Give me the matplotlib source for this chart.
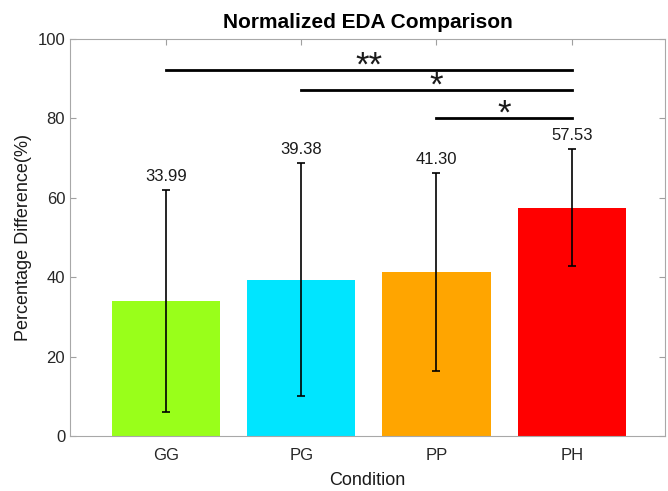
import numpy as np
import matplotlib
matplotlib.use("Agg")
import matplotlib.pyplot as plt

plt.rcParams["font.family"] = ["Liberation Sans", "DejaVu Sans"]

# ── data ──────────────────────────────────────────────────────────────────────
conditions = ["GG", "PG", "PP", "PH"]
means = [33.99, 39.38, 41.30, 57.53]
errors = [28.0, 29.3, 24.9, 14.7]
colors = ["#99ff1a", "#00e5ff", "#ffa500", "#ff0000"]

# significance brackets: (from index, to index, height, label)
sig_from = [0, 1, 2]
sig_to = [3, 3, 3]
sig_height = [92.2, 87.1, 80.1]
sig_label = ["**", "*", "*"]

# ── plot ──────────────────────────────────────────────────────────────────────
fig = plt.figure(figsize=(6.68, 4.91), dpi=100)
ax = fig.add_axes([70 / 668, 1 - 436 / 491, 595 / 668, 397 / 491])

x = np.arange(1, len(conditions) + 1)
ax.bar(x, means, width=0.8, color=colors, zorder=2)
ax.errorbar(x, means, yerr=errors, fmt="none", ecolor="black",
            elinewidth=1.2, capsize=3, capthick=1.2, zorder=3)

for xi, m, e in zip(x, means, errors):
    ax.text(xi, m + e + 1.6, f"{m:.2f}", ha="center", va="bottom",
            fontsize=12, color="#1a1a1a")

for a, b, h, lab in zip(sig_from, sig_to, sig_height, sig_label):
    ax.plot([x[a], x[b]], [h, h], color="black", linewidth=2, zorder=4)
    ax.text((x[a] + x[b]) / 2, h - 1.3, lab, ha="center", va="baseline",
            fontsize=25, color="#1a1a1a")

ax.set_xlim(0.29, 4.69)
ax.set_ylim(0, 100)
ax.set_xticks(x)
ax.set_xticklabels(conditions)
ax.set_yticks(np.arange(0, 101, 20))
ax.tick_params(direction="in", length=4, colors="#a0a0a0", labelcolor="#262626",
               labelsize=12, top=True, right=True, width=0.8)
ax.tick_params(axis="x", pad=9)
for s in ax.spines.values():
    s.set_color("#a8a8a8")
    s.set_linewidth(0.8)

ax.set_xlabel("Condition", fontsize=13, color="#1a1a1a", labelpad=6)
ax.set_ylabel("Percentage Difference(%)", fontsize=13, color="#1a1a1a")
ax.set_title("Normalized EDA Comparison", fontsize=15, fontweight="bold", pad=8)

fig.savefig("out.png", dpi=100)
